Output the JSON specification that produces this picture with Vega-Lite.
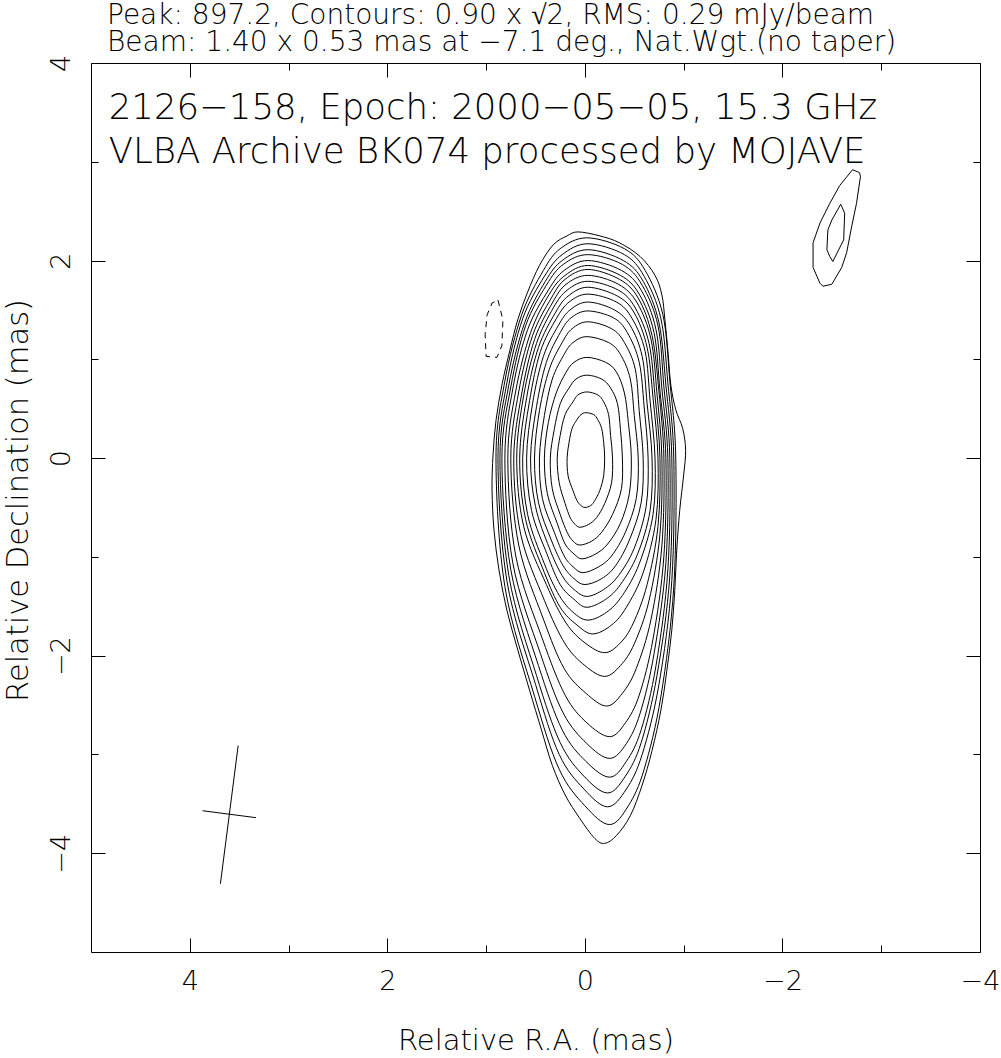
{
"$schema": "https://vega.github.io/schema/vega-lite/v6.json",
"width": 889, "height": 889,
"autosize": {"type": "none"},
"padding": {"left": 91, "top": 63, "right": 21, "bottom": 106},
"background": "white",
"config": {"view": {"stroke": "#000", "strokeWidth": 1}, "font": "DejaVu Sans"},
"title": {"text": ["Peak: 897.2, Contours: 0.90 x √2, RMS: 0.29 mJy/beam", "Beam: 1.40 x 0.53 mas at −7.1 deg., Nat.Wgt.(no taper)"], "anchor": "start", "frame": "group", "dx": 16, "fontSize": 28, "lineHeight": 27, "font": "DejaVu Sans", "fontWeight": 200, "color": "#000", "offset": -3},
"resolve": {"axis": {"x": "independent", "y": "independent"}},
"datasets": {
"contours": [
{"c":"k0","i":0,"ra":0.18,"dec":2.25},{"c":"k0","i":1,"ra":0.07,"dec":2.29},{"c":"k0","i":2,"ra":-0.15,"dec":2.25},{"c":"k0","i":3,"ra":-0.35,"dec":2.18},{"c":"k0","i":4,"ra":-0.56,"dec":2.04},{"c":"k0","i":5,"ra":-0.71,"dec":1.85},{"c":"k0","i":6,"ra":-0.78,"dec":1.65},{"c":"k0","i":7,"ra":-0.81,"dec":1.40},{"c":"k0","i":8,"ra":-0.84,"dec":1.09},{"c":"k0","i":9,"ra":-0.87,"dec":0.74},{"c":"k0","i":10,"ra":-0.92,"dec":0.49},{"c":"k0","i":11,"ra":-0.99,"dec":0.30},{"c":"k0","i":12,"ra":-1.02,"dec":0.08},{"c":"k0","i":13,"ra":-1.00,"dec":-0.17},{"c":"k0","i":14,"ra":-0.96,"dec":-0.53},{"c":"k0","i":15,"ra":-0.93,"dec":-0.93},{"c":"k0","i":16,"ra":-0.91,"dec":-1.34},{"c":"k0","i":17,"ra":-0.88,"dec":-1.74},{"c":"k0","i":18,"ra":-0.83,"dec":-2.15},{"c":"k0","i":19,"ra":-0.77,"dec":-2.55},{"c":"k0","i":20,"ra":-0.68,"dec":-2.96},{"c":"k0","i":21,"ra":-0.58,"dec":-3.31},{"c":"k0","i":22,"ra":-0.46,"dec":-3.62},{"c":"k0","i":23,"ra":-0.32,"dec":-3.82},{"c":"k0","i":24,"ra":-0.20,"dec":-3.90},{"c":"k0","i":25,"ra":-0.10,"dec":-3.85},{"c":"k0","i":26,"ra":0.05,"dec":-3.65},{"c":"k0","i":27,"ra":0.20,"dec":-3.41},{"c":"k0","i":28,"ra":0.33,"dec":-3.11},{"c":"k0","i":29,"ra":0.44,"dec":-2.75},{"c":"k0","i":30,"ra":0.56,"dec":-2.35},{"c":"k0","i":31,"ra":0.68,"dec":-1.94},{"c":"k0","i":32,"ra":0.79,"dec":-1.54},{"c":"k0","i":33,"ra":0.87,"dec":-1.13},{"c":"k0","i":34,"ra":0.92,"dec":-0.73},{"c":"k0","i":35,"ra":0.94,"dec":-0.32},{"c":"k0","i":36,"ra":0.93,"dec":0.03},{"c":"k0","i":37,"ra":0.90,"dec":0.38},{"c":"k0","i":38,"ra":0.84,"dec":0.74},{"c":"k0","i":39,"ra":0.76,"dec":1.09},{"c":"k0","i":40,"ra":0.68,"dec":1.40},{"c":"k0","i":41,"ra":0.58,"dec":1.68},{"c":"k0","i":42,"ra":0.46,"dec":1.95},{"c":"k0","i":43,"ra":0.32,"dec":2.16},
{"c":"k1","i":0,"ra":-0.02,"dec":2.23},{"c":"k1","i":1,"ra":-0.40,"dec":2.12},{"c":"k1","i":2,"ra":-0.61,"dec":1.90},{"c":"k1","i":3,"ra":-0.79,"dec":1.45},{"c":"k1","i":4,"ra":-0.86,"dec":0.78},{"c":"k1","i":5,"ra":-0.92,"dec":0},{"c":"k1","i":6,"ra":-0.90,"dec":-1.30},{"c":"k1","i":7,"ra":-0.77,"dec":-2.41},{"c":"k1","i":8,"ra":-0.60,"dec":-3.15},{"c":"k1","i":9,"ra":-0.44,"dec":-3.52},{"c":"k1","i":10,"ra":-0.25,"dec":-3.71},{"c":"k1","i":11,"ra":0.00,"dec":-3.52},{"c":"k1","i":12,"ra":0.26,"dec":-3.15},{"c":"k1","i":13,"ra":0.51,"dec":-2.41},{"c":"k1","i":14,"ra":0.81,"dec":-1.30},{"c":"k1","i":15,"ra":0.90,"dec":0},{"c":"k1","i":16,"ra":0.81,"dec":0.78},{"c":"k1","i":17,"ra":0.64,"dec":1.45},{"c":"k1","i":18,"ra":0.42,"dec":1.90},{"c":"k1","i":19,"ra":0.25,"dec":2.12},
{"c":"k2","i":0,"ra":-0.03,"dec":2.17},{"c":"k2","i":1,"ra":-0.40,"dec":2.06},{"c":"k2","i":2,"ra":-0.60,"dec":1.84},{"c":"k2","i":3,"ra":-0.77,"dec":1.41},{"c":"k2","i":4,"ra":-0.84,"dec":0.76},{"c":"k2","i":5,"ra":-0.90,"dec":0},{"c":"k2","i":6,"ra":-0.88,"dec":-1.24},{"c":"k2","i":7,"ra":-0.75,"dec":-2.29},{"c":"k2","i":8,"ra":-0.58,"dec":-3.00},{"c":"k2","i":9,"ra":-0.42,"dec":-3.35},{"c":"k2","i":10,"ra":-0.23,"dec":-3.53},{"c":"k2","i":11,"ra":0.01,"dec":-3.35},{"c":"k2","i":12,"ra":0.26,"dec":-3.00},{"c":"k2","i":13,"ra":0.50,"dec":-2.29},{"c":"k2","i":14,"ra":0.79,"dec":-1.24},{"c":"k2","i":15,"ra":0.88,"dec":0},{"c":"k2","i":16,"ra":0.79,"dec":0.76},{"c":"k2","i":17,"ra":0.63,"dec":1.41},{"c":"k2","i":18,"ra":0.41,"dec":1.84},{"c":"k2","i":19,"ra":0.23,"dec":2.06},
{"c":"k3","i":0,"ra":-0.03,"dec":2.11},{"c":"k3","i":1,"ra":-0.39,"dec":2.00},{"c":"k3","i":2,"ra":-0.59,"dec":1.79},{"c":"k3","i":3,"ra":-0.75,"dec":1.37},{"c":"k3","i":4,"ra":-0.82,"dec":0.74},{"c":"k3","i":5,"ra":-0.88,"dec":0},{"c":"k3","i":6,"ra":-0.86,"dec":-1.19},{"c":"k3","i":7,"ra":-0.73,"dec":-2.20},{"c":"k3","i":8,"ra":-0.57,"dec":-2.88},{"c":"k3","i":9,"ra":-0.41,"dec":-3.22},{"c":"k3","i":10,"ra":-0.23,"dec":-3.39},{"c":"k3","i":11,"ra":0.01,"dec":-3.22},{"c":"k3","i":12,"ra":0.25,"dec":-2.88},{"c":"k3","i":13,"ra":0.49,"dec":-2.20},{"c":"k3","i":14,"ra":0.77,"dec":-1.19},{"c":"k3","i":15,"ra":0.86,"dec":0},{"c":"k3","i":16,"ra":0.77,"dec":0.74},{"c":"k3","i":17,"ra":0.61,"dec":1.37},{"c":"k3","i":18,"ra":0.40,"dec":1.79},{"c":"k3","i":19,"ra":0.23,"dec":2.00},
{"c":"k4","i":0,"ra":-0.03,"dec":2.06},{"c":"k4","i":1,"ra":-0.38,"dec":1.96},{"c":"k4","i":2,"ra":-0.58,"dec":1.75},{"c":"k4","i":3,"ra":-0.74,"dec":1.34},{"c":"k4","i":4,"ra":-0.80,"dec":0.72},{"c":"k4","i":5,"ra":-0.86,"dec":0},{"c":"k4","i":6,"ra":-0.84,"dec":-1.13},{"c":"k4","i":7,"ra":-0.72,"dec":-2.10},{"c":"k4","i":8,"ra":-0.57,"dec":-2.75},{"c":"k4","i":9,"ra":-0.42,"dec":-3.07},{"c":"k4","i":10,"ra":-0.25,"dec":-3.23},{"c":"k4","i":11,"ra":-0.01,"dec":-3.07},{"c":"k4","i":12,"ra":0.23,"dec":-2.75},{"c":"k4","i":13,"ra":0.47,"dec":-2.10},{"c":"k4","i":14,"ra":0.75,"dec":-1.13},{"c":"k4","i":15,"ra":0.84,"dec":0},{"c":"k4","i":16,"ra":0.75,"dec":0.72},{"c":"k4","i":17,"ra":0.60,"dec":1.34},{"c":"k4","i":18,"ra":0.39,"dec":1.75},{"c":"k4","i":19,"ra":0.22,"dec":1.96},
{"c":"k5","i":0,"ra":-0.03,"dec":2.00},{"c":"k5","i":1,"ra":-0.37,"dec":1.90},{"c":"k5","i":2,"ra":-0.57,"dec":1.70},{"c":"k5","i":3,"ra":-0.72,"dec":1.30},{"c":"k5","i":4,"ra":-0.78,"dec":0.70},{"c":"k5","i":5,"ra":-0.84,"dec":0},{"c":"k5","i":6,"ra":-0.82,"dec":-1.06},{"c":"k5","i":7,"ra":-0.70,"dec":-1.98},{"c":"k5","i":8,"ra":-0.56,"dec":-2.58},{"c":"k5","i":9,"ra":-0.42,"dec":-2.89},{"c":"k5","i":10,"ra":-0.25,"dec":-3.04},{"c":"k5","i":11,"ra":-0.02,"dec":-2.89},{"c":"k5","i":12,"ra":0.22,"dec":-2.58},{"c":"k5","i":13,"ra":0.45,"dec":-1.98},{"c":"k5","i":14,"ra":0.73,"dec":-1.06},{"c":"k5","i":15,"ra":0.81,"dec":0},{"c":"k5","i":16,"ra":0.73,"dec":0.70},{"c":"k5","i":17,"ra":0.58,"dec":1.30},{"c":"k5","i":18,"ra":0.37,"dec":1.70},{"c":"k5","i":19,"ra":0.21,"dec":1.90},
{"c":"k6","i":0,"ra":-0.03,"dec":1.95},{"c":"k6","i":1,"ra":-0.36,"dec":1.85},{"c":"k6","i":2,"ra":-0.55,"dec":1.66},{"c":"k6","i":3,"ra":-0.70,"dec":1.27},{"c":"k6","i":4,"ra":-0.76,"dec":0.68},{"c":"k6","i":5,"ra":-0.82,"dec":0},{"c":"k6","i":6,"ra":-0.80,"dec":-0.99},{"c":"k6","i":7,"ra":-0.69,"dec":-1.83},{"c":"k6","i":8,"ra":-0.55,"dec":-2.40},{"c":"k6","i":9,"ra":-0.41,"dec":-2.68},{"c":"k6","i":10,"ra":-0.25,"dec":-2.82},{"c":"k6","i":11,"ra":-0.02,"dec":-2.68},{"c":"k6","i":12,"ra":0.20,"dec":-2.40},{"c":"k6","i":13,"ra":0.43,"dec":-1.83},{"c":"k6","i":14,"ra":0.70,"dec":-0.99},{"c":"k6","i":15,"ra":0.78,"dec":0},{"c":"k6","i":16,"ra":0.70,"dec":0.68},{"c":"k6","i":17,"ra":0.55,"dec":1.27},{"c":"k6","i":18,"ra":0.36,"dec":1.66},{"c":"k6","i":19,"ra":0.20,"dec":1.85},
{"c":"k7","i":0,"ra":-0.03,"dec":1.91},{"c":"k7","i":1,"ra":-0.35,"dec":1.81},{"c":"k7","i":2,"ra":-0.54,"dec":1.62},{"c":"k7","i":3,"ra":-0.68,"dec":1.24},{"c":"k7","i":4,"ra":-0.75,"dec":0.67},{"c":"k7","i":5,"ra":-0.80,"dec":0},{"c":"k7","i":6,"ra":-0.78,"dec":-0.88},{"c":"k7","i":7,"ra":-0.67,"dec":-1.63},{"c":"k7","i":8,"ra":-0.52,"dec":-2.13},{"c":"k7","i":9,"ra":-0.38,"dec":-2.38},{"c":"k7","i":10,"ra":-0.22,"dec":-2.51},{"c":"k7","i":11,"ra":-0.01,"dec":-2.38},{"c":"k7","i":12,"ra":0.21,"dec":-2.13},{"c":"k7","i":13,"ra":0.42,"dec":-1.63},{"c":"k7","i":14,"ra":0.67,"dec":-0.88},{"c":"k7","i":15,"ra":0.75,"dec":0},{"c":"k7","i":16,"ra":0.67,"dec":0.67},{"c":"k7","i":17,"ra":0.53,"dec":1.24},{"c":"k7","i":18,"ra":0.34,"dec":1.62},{"c":"k7","i":19,"ra":0.20,"dec":1.81},
{"c":"k8","i":0,"ra":-0.03,"dec":1.85},{"c":"k8","i":1,"ra":-0.34,"dec":1.76},{"c":"k8","i":2,"ra":-0.53,"dec":1.57},{"c":"k8","i":3,"ra":-0.67,"dec":1.20},{"c":"k8","i":4,"ra":-0.73,"dec":0.65},{"c":"k8","i":5,"ra":-0.78,"dec":0},{"c":"k8","i":6,"ra":-0.76,"dec":-0.77},{"c":"k8","i":7,"ra":-0.65,"dec":-1.44},{"c":"k8","i":8,"ra":-0.50,"dec":-1.88},{"c":"k8","i":9,"ra":-0.36,"dec":-2.10},{"c":"k8","i":10,"ra":-0.20,"dec":-2.21},{"c":"k8","i":11,"ra":0.00,"dec":-2.10},{"c":"k8","i":12,"ra":0.20,"dec":-1.88},{"c":"k8","i":13,"ra":0.41,"dec":-1.44},{"c":"k8","i":14,"ra":0.65,"dec":-0.77},{"c":"k8","i":15,"ra":0.72,"dec":0},{"c":"k8","i":16,"ra":0.64,"dec":0.65},{"c":"k8","i":17,"ra":0.51,"dec":1.20},{"c":"k8","i":18,"ra":0.33,"dec":1.57},{"c":"k8","i":19,"ra":0.19,"dec":1.76},
{"c":"k9","i":0,"ra":-0.03,"dec":1.79},{"c":"k9","i":1,"ra":-0.34,"dec":1.70},{"c":"k9","i":2,"ra":-0.51,"dec":1.52},{"c":"k9","i":3,"ra":-0.65,"dec":1.16},{"c":"k9","i":4,"ra":-0.71,"dec":0.63},{"c":"k9","i":5,"ra":-0.76,"dec":0},{"c":"k9","i":6,"ra":-0.74,"dec":-0.69},{"c":"k9","i":7,"ra":-0.63,"dec":-1.28},{"c":"k9","i":8,"ra":-0.49,"dec":-1.67},{"c":"k9","i":9,"ra":-0.36,"dec":-1.87},{"c":"k9","i":10,"ra":-0.20,"dec":-1.97},{"c":"k9","i":11,"ra":0.00,"dec":-1.87},{"c":"k9","i":12,"ra":0.19,"dec":-1.67},{"c":"k9","i":13,"ra":0.39,"dec":-1.28},{"c":"k9","i":14,"ra":0.62,"dec":-0.69},{"c":"k9","i":15,"ra":0.69,"dec":0},{"c":"k9","i":16,"ra":0.62,"dec":0.63},{"c":"k9","i":17,"ra":0.49,"dec":1.16},{"c":"k9","i":18,"ra":0.32,"dec":1.52},{"c":"k9","i":19,"ra":0.18,"dec":1.70},
{"c":"k10","i":0,"ra":-0.03,"dec":1.73},{"c":"k10","i":1,"ra":-0.33,"dec":1.64},{"c":"k10","i":2,"ra":-0.50,"dec":1.47},{"c":"k10","i":3,"ra":-0.63,"dec":1.12},{"c":"k10","i":4,"ra":-0.69,"dec":0.61},{"c":"k10","i":5,"ra":-0.74,"dec":0},{"c":"k10","i":6,"ra":-0.72,"dec":-0.62},{"c":"k10","i":7,"ra":-0.59,"dec":-1.16},{"c":"k10","i":8,"ra":-0.42,"dec":-1.51},{"c":"k10","i":9,"ra":-0.27,"dec":-1.69},{"c":"k10","i":10,"ra":-0.08,"dec":-1.78},{"c":"k10","i":11,"ra":0.08,"dec":-1.69},{"c":"k10","i":12,"ra":0.25,"dec":-1.51},{"c":"k10","i":13,"ra":0.41,"dec":-1.16},{"c":"k10","i":14,"ra":0.60,"dec":-0.62},{"c":"k10","i":15,"ra":0.66,"dec":0},{"c":"k10","i":16,"ra":0.59,"dec":0.61},{"c":"k10","i":17,"ra":0.47,"dec":1.12},{"c":"k10","i":18,"ra":0.30,"dec":1.47},{"c":"k10","i":19,"ra":0.17,"dec":1.64},
{"c":"k11","i":0,"ra":-0.03,"dec":1.66},{"c":"k11","i":1,"ra":-0.32,"dec":1.58},{"c":"k11","i":2,"ra":-0.48,"dec":1.41},{"c":"k11","i":3,"ra":-0.61,"dec":1.08},{"c":"k11","i":4,"ra":-0.66,"dec":0.58},{"c":"k11","i":5,"ra":-0.71,"dec":0},{"c":"k11","i":6,"ra":-0.69,"dec":-0.57},{"c":"k11","i":7,"ra":-0.55,"dec":-1.07},{"c":"k11","i":8,"ra":-0.38,"dec":-1.39},{"c":"k11","i":9,"ra":-0.22,"dec":-1.56},{"c":"k11","i":10,"ra":-0.03,"dec":-1.64},{"c":"k11","i":11,"ra":0.12,"dec":-1.56},{"c":"k11","i":12,"ra":0.26,"dec":-1.39},{"c":"k11","i":13,"ra":0.41,"dec":-1.07},{"c":"k11","i":14,"ra":0.58,"dec":-0.57},{"c":"k11","i":15,"ra":0.63,"dec":0},{"c":"k11","i":16,"ra":0.56,"dec":0.58},{"c":"k11","i":17,"ra":0.45,"dec":1.08},{"c":"k11","i":18,"ra":0.29,"dec":1.41},{"c":"k11","i":19,"ra":0.16,"dec":1.58},
{"c":"k12","i":0,"ra":-0.03,"dec":1.58},{"c":"k12","i":1,"ra":-0.30,"dec":1.50},{"c":"k12","i":2,"ra":-0.46,"dec":1.34},{"c":"k12","i":3,"ra":-0.58,"dec":1.03},{"c":"k12","i":4,"ra":-0.63,"dec":0.55},{"c":"k12","i":5,"ra":-0.68,"dec":0},{"c":"k12","i":6,"ra":-0.66,"dec":-0.53},{"c":"k12","i":7,"ra":-0.53,"dec":-0.98},{"c":"k12","i":8,"ra":-0.36,"dec":-1.28},{"c":"k12","i":9,"ra":-0.21,"dec":-1.43},{"c":"k12","i":10,"ra":-0.02,"dec":-1.51},{"c":"k12","i":11,"ra":0.11,"dec":-1.43},{"c":"k12","i":12,"ra":0.25,"dec":-1.28},{"c":"k12","i":13,"ra":0.38,"dec":-0.98},{"c":"k12","i":14,"ra":0.54,"dec":-0.53},{"c":"k12","i":15,"ra":0.59,"dec":0},{"c":"k12","i":16,"ra":0.53,"dec":0.55},{"c":"k12","i":17,"ra":0.42,"dec":1.03},{"c":"k12","i":18,"ra":0.27,"dec":1.34},{"c":"k12","i":19,"ra":0.15,"dec":1.50},
{"c":"k13","i":0,"ra":-0.03,"dec":1.49},{"c":"k13","i":1,"ra":-0.29,"dec":1.42},{"c":"k13","i":2,"ra":-0.43,"dec":1.27},{"c":"k13","i":3,"ra":-0.55,"dec":0.97},{"c":"k13","i":4,"ra":-0.60,"dec":0.52},{"c":"k13","i":5,"ra":-0.64,"dec":0},{"c":"k13","i":6,"ra":-0.62,"dec":-0.49},{"c":"k13","i":7,"ra":-0.50,"dec":-0.91},{"c":"k13","i":8,"ra":-0.34,"dec":-1.19},{"c":"k13","i":9,"ra":-0.19,"dec":-1.33},{"c":"k13","i":10,"ra":-0.02,"dec":-1.40},{"c":"k13","i":11,"ra":0.11,"dec":-1.33},{"c":"k13","i":12,"ra":0.23,"dec":-1.19},{"c":"k13","i":13,"ra":0.36,"dec":-0.91},{"c":"k13","i":14,"ra":0.50,"dec":-0.49},{"c":"k13","i":15,"ra":0.55,"dec":0},{"c":"k13","i":16,"ra":0.49,"dec":0.52},{"c":"k13","i":17,"ra":0.39,"dec":0.97},{"c":"k13","i":18,"ra":0.25,"dec":1.27},{"c":"k13","i":19,"ra":0.14,"dec":1.42},
{"c":"k14","i":0,"ra":-0.03,"dec":1.38},{"c":"k14","i":1,"ra":-0.27,"dec":1.31},{"c":"k14","i":2,"ra":-0.40,"dec":1.17},{"c":"k14","i":3,"ra":-0.51,"dec":0.90},{"c":"k14","i":4,"ra":-0.55,"dec":0.48},{"c":"k14","i":5,"ra":-0.59,"dec":0},{"c":"k14","i":6,"ra":-0.57,"dec":-0.45},{"c":"k14","i":7,"ra":-0.45,"dec":-0.83},{"c":"k14","i":8,"ra":-0.31,"dec":-1.09},{"c":"k14","i":9,"ra":-0.17,"dec":-1.22},{"c":"k14","i":10,"ra":0.00,"dec":-1.28},{"c":"k14","i":11,"ra":0.11,"dec":-1.22},{"c":"k14","i":12,"ra":0.22,"dec":-1.09},{"c":"k14","i":13,"ra":0.34,"dec":-0.83},{"c":"k14","i":14,"ra":0.47,"dec":-0.45},{"c":"k14","i":15,"ra":0.51,"dec":0},{"c":"k14","i":16,"ra":0.46,"dec":0.48},{"c":"k14","i":17,"ra":0.36,"dec":0.90},{"c":"k14","i":18,"ra":0.23,"dec":1.17},{"c":"k14","i":19,"ra":0.13,"dec":1.31},
{"c":"k15","i":0,"ra":-0.02,"dec":1.23},{"c":"k15","i":1,"ra":-0.24,"dec":1.17},{"c":"k15","i":2,"ra":-0.36,"dec":1.05},{"c":"k15","i":3,"ra":-0.46,"dec":0.80},{"c":"k15","i":4,"ra":-0.50,"dec":0.43},{"c":"k15","i":5,"ra":-0.54,"dec":0},{"c":"k15","i":6,"ra":-0.52,"dec":-0.41},{"c":"k15","i":7,"ra":-0.41,"dec":-0.75},{"c":"k15","i":8,"ra":-0.27,"dec":-0.99},{"c":"k15","i":9,"ra":-0.14,"dec":-1.10},{"c":"k15","i":10,"ra":0.02,"dec":-1.16},{"c":"k15","i":11,"ra":0.12,"dec":-1.10},{"c":"k15","i":12,"ra":0.21,"dec":-0.99},{"c":"k15","i":13,"ra":0.31,"dec":-0.75},{"c":"k15","i":14,"ra":0.43,"dec":-0.41},{"c":"k15","i":15,"ra":0.46,"dec":0},{"c":"k15","i":16,"ra":0.41,"dec":0.43},{"c":"k15","i":17,"ra":0.33,"dec":0.80},{"c":"k15","i":18,"ra":0.21,"dec":1.05},{"c":"k15","i":19,"ra":0.12,"dec":1.17},
{"c":"k16","i":0,"ra":-0.02,"dec":1.02},{"c":"k16","i":1,"ra":-0.21,"dec":0.97},{"c":"k16","i":2,"ra":-0.32,"dec":0.87},{"c":"k16","i":3,"ra":-0.40,"dec":0.66},{"c":"k16","i":4,"ra":-0.44,"dec":0.36},{"c":"k16","i":5,"ra":-0.47,"dec":0},{"c":"k16","i":6,"ra":-0.45,"dec":-0.36},{"c":"k16","i":7,"ra":-0.36,"dec":-0.66},{"c":"k16","i":8,"ra":-0.23,"dec":-0.87},{"c":"k16","i":9,"ra":-0.11,"dec":-0.97},{"c":"k16","i":10,"ra":0.03,"dec":-1.02},{"c":"k16","i":11,"ra":0.11,"dec":-0.97},{"c":"k16","i":12,"ra":0.20,"dec":-0.87},{"c":"k16","i":13,"ra":0.28,"dec":-0.66},{"c":"k16","i":14,"ra":0.38,"dec":-0.36},{"c":"k16","i":15,"ra":0.41,"dec":0},{"c":"k16","i":16,"ra":0.37,"dec":0.36},{"c":"k16","i":17,"ra":0.29,"dec":0.66},{"c":"k16","i":18,"ra":0.19,"dec":0.87},{"c":"k16","i":19,"ra":0.11,"dec":0.97},
{"c":"k17","i":0,"ra":-0.02,"dec":0.84},{"c":"k17","i":1,"ra":-0.17,"dec":0.80},{"c":"k17","i":2,"ra":-0.26,"dec":0.71},{"c":"k17","i":3,"ra":-0.33,"dec":0.55},{"c":"k17","i":4,"ra":-0.36,"dec":0.29},{"c":"k17","i":5,"ra":-0.38,"dec":0},{"c":"k17","i":6,"ra":-0.37,"dec":-0.31},{"c":"k17","i":7,"ra":-0.28,"dec":-0.57},{"c":"k17","i":8,"ra":-0.17,"dec":-0.75},{"c":"k17","i":9,"ra":-0.07,"dec":-0.84},{"c":"k17","i":10,"ra":0.05,"dec":-0.88},{"c":"k17","i":11,"ra":0.12,"dec":-0.84},{"c":"k17","i":12,"ra":0.18,"dec":-0.75},{"c":"k17","i":13,"ra":0.25,"dec":-0.57},{"c":"k17","i":14,"ra":0.33,"dec":-0.31},{"c":"k17","i":15,"ra":0.35,"dec":0},{"c":"k17","i":16,"ra":0.31,"dec":0.29},{"c":"k17","i":17,"ra":0.25,"dec":0.55},{"c":"k17","i":18,"ra":0.16,"dec":0.71},{"c":"k17","i":19,"ra":0.09,"dec":0.80},
{"c":"k18","i":0,"ra":-0.02,"dec":0.67},{"c":"k18","i":1,"ra":-0.13,"dec":0.64},{"c":"k18","i":2,"ra":-0.19,"dec":0.57},{"c":"k18","i":3,"ra":-0.24,"dec":0.44},{"c":"k18","i":4,"ra":-0.26,"dec":0.23},{"c":"k18","i":5,"ra":-0.28,"dec":0},{"c":"k18","i":6,"ra":-0.27,"dec":-0.25},{"c":"k18","i":7,"ra":-0.20,"dec":-0.46},{"c":"k18","i":8,"ra":-0.12,"dec":-0.60},{"c":"k18","i":9,"ra":-0.04,"dec":-0.67},{"c":"k18","i":10,"ra":0.05,"dec":-0.70},{"c":"k18","i":11,"ra":0.10,"dec":-0.67},{"c":"k18","i":12,"ra":0.15,"dec":-0.60},{"c":"k18","i":13,"ra":0.20,"dec":-0.46},{"c":"k18","i":14,"ra":0.26,"dec":-0.25},{"c":"k18","i":15,"ra":0.28,"dec":0},{"c":"k18","i":16,"ra":0.25,"dec":0.23},{"c":"k18","i":17,"ra":0.20,"dec":0.44},{"c":"k18","i":18,"ra":0.12,"dec":0.57},{"c":"k18","i":19,"ra":0.07,"dec":0.64},
{"c":"k19","i":0,"ra":-0.01,"dec":0.46},{"c":"k19","i":1,"ra":-0.09,"dec":0.44},{"c":"k19","i":2,"ra":-0.13,"dec":0.39},{"c":"k19","i":3,"ra":-0.17,"dec":0.30},{"c":"k19","i":4,"ra":-0.19,"dec":0.16},{"c":"k19","i":5,"ra":-0.20,"dec":0},{"c":"k19","i":6,"ra":-0.19,"dec":-0.18},{"c":"k19","i":7,"ra":-0.15,"dec":-0.33},{"c":"k19","i":8,"ra":-0.10,"dec":-0.43},{"c":"k19","i":9,"ra":-0.06,"dec":-0.48},{"c":"k19","i":10,"ra":0.00,"dec":-0.50},{"c":"k19","i":11,"ra":0.04,"dec":-0.48},{"c":"k19","i":12,"ra":0.08,"dec":-0.43},{"c":"k19","i":13,"ra":0.12,"dec":-0.33},{"c":"k19","i":14,"ra":0.17,"dec":-0.18},{"c":"k19","i":15,"ra":0.18,"dec":0},{"c":"k19","i":16,"ra":0.16,"dec":0.16},{"c":"k19","i":17,"ra":0.13,"dec":0.30},{"c":"k19","i":18,"ra":0.08,"dec":0.39},{"c":"k19","i":19,"ra":0.04,"dec":0.44}
],
"extra": [
{"c":"b0","i":0,"ra":-2.71,"dec":2.92},{"c":"b0","i":1,"ra":-2.78,"dec":2.89},{"c":"b0","i":2,"ra":-2.79,"dec":2.85},{"c":"b0","i":3,"ra":-2.75,"dec":2.58},{"c":"b0","i":4,"ra":-2.70,"dec":2.34},{"c":"b0","i":5,"ra":-2.65,"dec":2.08},{"c":"b0","i":6,"ra":-2.60,"dec":1.93},{"c":"b0","i":7,"ra":-2.50,"dec":1.76},{"c":"b0","i":8,"ra":-2.41,"dec":1.74},{"c":"b0","i":9,"ra":-2.38,"dec":1.77},{"c":"b0","i":10,"ra":-2.31,"dec":1.93},{"c":"b0","i":11,"ra":-2.31,"dec":2.18},{"c":"b0","i":12,"ra":-2.38,"dec":2.38},{"c":"b0","i":13,"ra":-2.48,"dec":2.58},{"c":"b0","i":14,"ra":-2.58,"dec":2.76},
{"c":"b1","i":0,"ra":-2.59,"dec":2.57},{"c":"b1","i":1,"ra":-2.63,"dec":2.48},{"c":"b1","i":2,"ra":-2.62,"dec":2.21},{"c":"b1","i":3,"ra":-2.51,"dec":1.99},{"c":"b1","i":4,"ra":-2.48,"dec":2.04},{"c":"b1","i":5,"ra":-2.45,"dec":2.11},{"c":"b1","i":6,"ra":-2.46,"dec":2.31},{"c":"b1","i":7,"ra":-2.50,"dec":2.41}
],
"neg": [
{"c":"n0","i":0,"ra":0.88,"dec":1.60},{"c":"n0","i":1,"ra":0.83,"dec":1.40},{"c":"n0","i":2,"ra":0.84,"dec":1.14},{"c":"n0","i":3,"ra":0.89,"dec":1.02},{"c":"n0","i":4,"ra":1.00,"dec":1.03},{"c":"n0","i":5,"ra":1.01,"dec":1.25},{"c":"n0","i":6,"ra":0.99,"dec":1.45},{"c":"n0","i":7,"ra":0.94,"dec":1.57}
],
"beam": [
{"seg":"major","i":0,"ra":3.51,"dec":-2.91},{"seg":"major","i":1,"ra":3.69,"dec":-4.31},
{"seg":"minor","i":0,"ra":3.87,"dec":-3.57},{"seg":"minor","i":1,"ra":3.33,"dec":-3.64}
],
"labels": [
{"t":"2126−158, Epoch: 2000−05−05, 15.3 GHz","ra":4.82,"dec":3.43},
{"t":"VLBA Archive BK074 processed by MOJAVE","ra":4.82,"dec":2.99}
]
},
"layer": [
{
"data": {"name": "contours"},
"mark": {"type": "line", "interpolate": "cardinal-closed", "stroke": "#000", "strokeWidth": 1},
"encoding": {
"x": {"field": "ra", "type": "quantitative", "scale": {"domain": [-4, 5], "reverse": true, "nice": false, "zero": false},
"axis": {"orient": "bottom", "values": [-4, -2, 0, 2, 4], "ticks": false, "domain": false, "grid": false, "labelFont": "DejaVu Sans", "labelFontSize": 27, "labelFontWeight": 200, "labelColor": "#000", "labelPadding": 16, "labelFlush": false, "labelOverlap": false, "labelBound": false, "title": "Relative R.A. (mas)", "titleFont": "DejaVu Sans", "titleFontSize": 29, "titleFontWeight": 200, "titleColor": "#000", "titleX": 444.5, "titleY": 97, "titleAlign": "center", "titleBaseline": "alphabetic"}},
"y": {"field": "dec", "type": "quantitative", "scale": {"domain": [-5, 4], "nice": false, "zero": false},
"axis": {"orient": "left", "values": [-4, -2, 0, 2, 4], "ticks": false, "domain": false, "grid": false, "labelAngle": 270, "labelAlign": "center", "labelBaseline": "alphabetic", "labelFont": "DejaVu Sans", "labelFontSize": 27, "labelFontWeight": 200, "labelColor": "#000", "labelPadding": 22, "labelFlush": false, "labelOverlap": false, "labelBound": false, "title": "Relative Declination (mas)", "titleFont": "DejaVu Sans", "titleFontSize": 30.5, "titleFontWeight": 200, "titleColor": "#000", "titleAngle": 270, "titleX": -64, "titleY": 437, "titleAlign": "center", "titleBaseline": "alphabetic"}},
"detail": {"field": "c", "type": "nominal"},
"order": {"field": "i", "type": "quantitative"}
}
},
{
"data": {"name": "neg"},
"mark": {"type": "line", "interpolate": "linear-closed", "stroke": "#000", "strokeWidth": 1, "strokeDash": [6, 5]},
"encoding": {
"x": {"field": "ra", "type": "quantitative", "scale": {"domain": [-4, 5], "reverse": true, "nice": false, "zero": false},
"axis": {"orient": "bottom", "values": [-4, -2, 0, 2, 4], "labels": false, "ticks": true, "tickSize": -14, "tickColor": "#000", "tickWidth": 1, "domain": false, "grid": false, "title": null}},
"y": {"field": "dec", "type": "quantitative", "scale": {"domain": [-5, 4], "nice": false, "zero": false},
"axis": {"orient": "left", "values": [-4, -2, 0, 2, 4], "labels": false, "ticks": true, "tickSize": -14, "tickColor": "#000", "tickWidth": 1, "domain": false, "grid": false, "title": null}},
"detail": {"field": "c", "type": "nominal"},
"order": {"field": "i", "type": "quantitative"}
}
},
{
"data": {"name": "beam"},
"mark": {"type": "line", "stroke": "#000", "strokeWidth": 1},
"encoding": {
"x": {"field": "ra", "type": "quantitative", "scale": {"domain": [-4, 5], "reverse": true, "nice": false, "zero": false},
"axis": {"orient": "bottom", "values": [-3, -1, 1, 3], "labels": false, "ticks": true, "tickSize": -7, "tickColor": "#000", "tickWidth": 1, "domain": false, "grid": false, "title": null}},
"y": {"field": "dec", "type": "quantitative", "scale": {"domain": [-5, 4], "nice": false, "zero": false},
"axis": {"orient": "left", "values": [-3, -1, 1, 3], "labels": false, "ticks": true, "tickSize": -7, "tickColor": "#000", "tickWidth": 1, "domain": false, "grid": false, "title": null}},
"detail": {"field": "seg", "type": "nominal"},
"order": {"field": "i", "type": "quantitative"}
}
},
{
"data": {"name": "labels"},
"mark": {"type": "text", "align": "left", "baseline": "alphabetic", "font": "DejaVu Sans", "fontSize": 35.5, "fontWeight": 200, "color": "#000"},
"encoding": {
"x": {"field": "ra", "type": "quantitative", "scale": {"domain": [-4, 5], "reverse": true, "nice": false, "zero": false},
"axis": {"orient": "top", "values": [-4, -2, 0, 2, 4], "labels": false, "ticks": true, "tickSize": -14, "tickColor": "#000", "tickWidth": 1, "domain": false, "grid": false, "title": null}},
"y": {"field": "dec", "type": "quantitative", "scale": {"domain": [-5, 4], "nice": false, "zero": false},
"axis": {"orient": "right", "values": [-4, -2, 0, 2, 4], "labels": false, "ticks": true, "tickSize": -14, "tickColor": "#000", "tickWidth": 1, "domain": false, "grid": false, "title": null}},
"text": {"field": "t", "type": "nominal"}
}
},
{
"data": {"name": "extra"},
"mark": {"type": "line", "interpolate": "linear-closed", "stroke": "#000", "strokeWidth": 1},
"encoding": {
"x": {"field": "ra", "type": "quantitative", "scale": {"domain": [-4, 5], "reverse": true, "nice": false, "zero": false},
"axis": {"orient": "top", "values": [-3, -1, 1, 3], "labels": false, "ticks": true, "tickSize": -7, "tickColor": "#000", "tickWidth": 1, "domain": false, "grid": false, "title": null}},
"y": {"field": "dec", "type": "quantitative", "scale": {"domain": [-5, 4], "nice": false, "zero": false},
"axis": {"orient": "right", "values": [-3, -1, 1, 3], "labels": false, "ticks": true, "tickSize": -7, "tickColor": "#000", "tickWidth": 1, "domain": false, "grid": false, "title": null}},
"detail": {"field": "c", "type": "nominal"},
"order": {"field": "i", "type": "quantitative"}
}
}
]
}
